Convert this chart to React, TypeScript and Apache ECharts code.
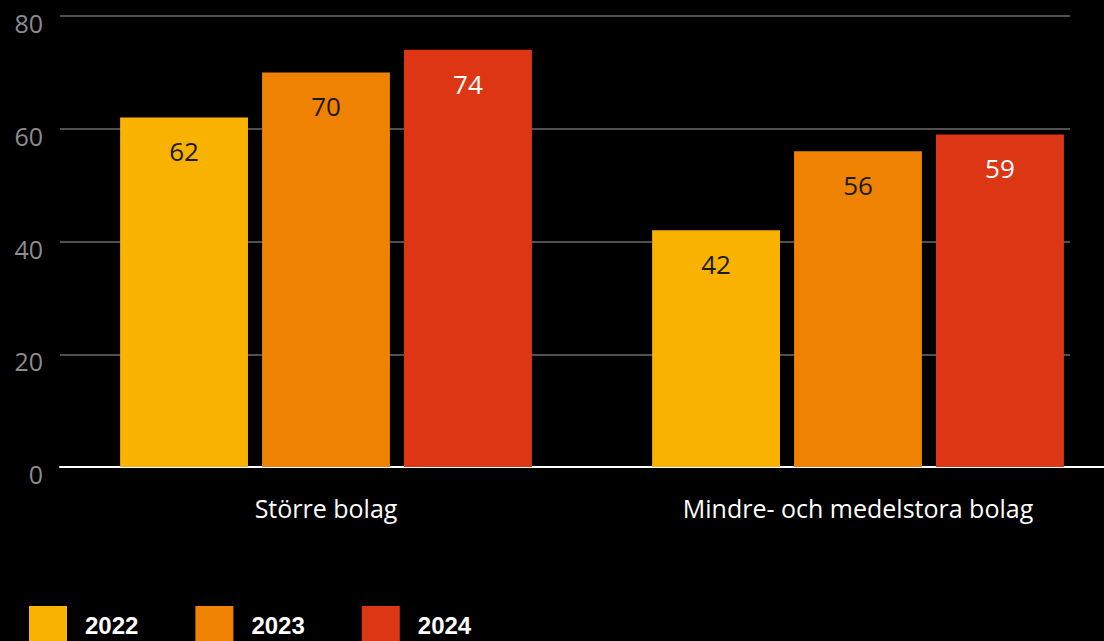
import React, { useEffect, useRef } from "react";
import * as echarts from "echarts";

const categories = ["Större bolag", "Mindre- och medelstora bolag"];
const years = ["2022", "2023", "2024"];
const values2022 = [62, 42];
const values2023 = [70, 56];
const values2024 = [74, 59];
const yTicks = [0, 20, 40, 60, 80];

const colors = ["#F9B200", "#EF8200", "#DC3614"];
const labelColors = ["#1a1a1a", "#1a1a1a", "#ffffff"];

export default function App() {
  const ref = useRef<HTMLDivElement>(null);
  useEffect(() => {
    if (!ref.current) return;
    const chart = echarts.init(ref.current, null, { renderer: "svg" });
    const seriesData = [values2022, values2023, values2024];
    const font = "'Open Sans', 'Noto Sans', sans-serif";
    chart.setOption({
      animation: false,
      backgroundColor: "#000000",
      grid: [
        { left: 60, width: 1010, top: 16, height: 451, outerBoundsMode: "none" },
        { left: 60, width: 1064, top: 16, height: 451, outerBoundsMode: "none" },
      ],
      legend: {
        left: 29,
        top: 606,
        padding: 0,
        itemWidth: 38,
        itemHeight: 38,
        itemGap: 57,
        icon: "rect",
        data: years,
        textStyle: {
          color: "#ffffff",
          fontSize: 24,
          fontWeight: "bold",
          fontFamily: "'Liberation Sans', Arial, sans-serif",
          padding: [0, 0, 0, 13],
        },
      },
      xAxis: [
        { type: "value", gridIndex: 0, show: false, min: 0, max: 1 },
        {
          type: "category",
          gridIndex: 1,
          data: categories,
          axisLine: { show: true, lineStyle: { color: "#ffffff", width: 2 } },
          axisTick: { show: false },
          axisLabel: {
            color: "#ffffff",
            fontSize: 25,
            fontFamily: font,
            margin: 28,
          },
        },
      ],
      yAxis: [
        {
          type: "value",
          gridIndex: 0,
          min: yTicks[0],
          max: yTicks[yTicks.length - 1],
          interval: 20,
          axisLine: { show: false },
          axisTick: { show: false },
          axisLabel: {
            color: "#8c8c8c",
            fontSize: 25,
            fontFamily: font,
            margin: 17,
            verticalAlign: "top",
            lineHeight: 14,
          },
          splitLine: { show: true, lineStyle: { color: "#505050", width: 2 } },
        },
        {
          type: "value",
          gridIndex: 1,
          min: 0,
          max: 80,
          show: false,
          splitLine: { show: false },
        },
      ],
      series: years.map((y, i) => ({
        name: y,
        type: "bar",
        xAxisIndex: 1,
        yAxisIndex: 1,
        data: seriesData[i],
        barGap: "11%",
        barCategoryGap: "22.6%",
        itemStyle: { color: colors[i] },
        z: 3,
        label: {
          show: true,
          position: "insideTop",
          distance: 21,
          color: labelColors[i],
          fontSize: 26,
          fontFamily: font,
        },
      })),
    });
    return () => chart.dispose();
  }, []);
  return <div ref={ref} style={{ width: 1104, height: 641, position: "absolute", left: 0, top: 0 }} />;
}
